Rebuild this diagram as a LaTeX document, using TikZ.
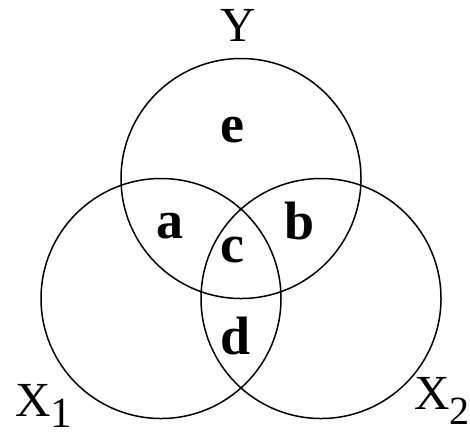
\documentclass[tikz,border=0pt]{standalone}
\usepackage{fontspec}
\setmainfont{Liberation Serif}
\usepackage{tikz}
\usetikzlibrary{positioning}

\begin{document}
\begin{tikzpicture}[x=1pt,y=-1pt,
  set/.style={circle,draw=black,line width=1.5pt,minimum size=240pt,inner sep=0pt},
  region/.style={font=\fontsize{54}{60}\selectfont\bfseries,inner sep=0pt,anchor=base},
  setname/.style={font=\fontsize{49}{56}\selectfont,inner sep=0pt}]
\useasboundingbox (0,0) rectangle (470,432);
% sets
\node[set] (sy) at (241,178.5) {};
\node[set] (sx1) at (161,298.5) {};
\node[set] (sx2) at (321,298.5) {};
% set names
\node[setname,anchor=base] (ly) at (238,41) {Y};
\node[setname,anchor=base west] (lx1) at (15,416) {X{\fontsize{43}{43}\selectfont\raisebox{-11pt}{1}}};
\node[setname,anchor=base west] (lx2) at (414,409) {X{\fontsize{40}{40}\selectfont\raisebox{-15pt}{2}}};
% regions
\node[region] (re) at (232,142) {e};
\node[region] (ra) at (170,238) {a};
\node[region] (rb) at (300,239) {b};
\node[region] (rc) at (232,262) {c};
\node[region] (rd) at (236,354) {d};
\end{tikzpicture}
\end{document}
